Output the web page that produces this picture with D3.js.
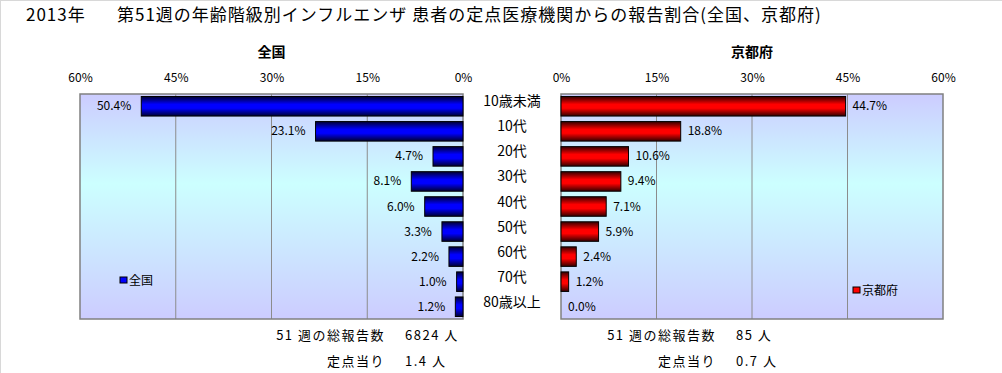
<!DOCTYPE html>
<html>
<head>
<meta charset="utf-8">
<script src="https://cdn.jsdelivr.net/npm/d3@7"></script>
<style>
  body { margin: 0; background: #fff; }
  svg { display: block; font-family: "Noto Sans CJK JP", "DejaVu Sans", sans-serif; }
</style>
</head>
<body>
<div id="chart"></div>
<script>
var categories = ["10歳未満", "10代", "20代", "30代", "40代", "50代", "60代", "70代", "80歳以上"];
var zenkoku = [50.4, 23.1, 4.7, 8.1, 6.0, 3.3, 2.2, 1.0, 1.2];
var kyoto = [44.7, 18.8, 10.6, 9.4, 7.1, 5.9, 2.4, 1.2, 0.0];
var ticks = [0, 15, 30, 45, 60];
var totals = {zenkoku: ["6824 人", "1.4 人"], kyoto: ["85 人", "0.7 人"]};

var w = 1002, h = 373;
var plotTop = 94, plotBottom = 319;

var svg = d3.select("#chart").append("svg")
    .attr("width", w)
    .attr("height", h);

/* frame lines */
svg.append("line").attr("x1", 0).attr("x2", w).attr("y1", 0.5).attr("y2", 0.5)
    .attr("stroke", "#d8d8d8");
svg.append("line").attr("x1", 0.5).attr("x2", 0.5).attr("y1", 0).attr("y2", h)
    .attr("stroke", "#d8d8d8");

var defs = svg.append("defs");

var bg = defs.append("linearGradient").attr("id", "bg")
    .attr("x1", 0).attr("y1", 0).attr("x2", 0).attr("y2", 1);
bg.append("stop").attr("offset", "0%").attr("stop-color", "#ccccff");
bg.append("stop").attr("offset", "40%").attr("stop-color", "#ccffff");
bg.append("stop").attr("offset", "100%").attr("stop-color", "#ccccff");

function barGrad(id, dark, bright) {
    var g = defs.append("linearGradient").attr("id", id)
        .attr("x1", 0).attr("y1", 0).attr("x2", 0).attr("y2", 1);
    g.append("stop").attr("offset", "0%").attr("stop-color", dark);
    g.append("stop").attr("offset", "40%").attr("stop-color", bright);
    g.append("stop").attr("offset", "60%").attr("stop-color", bright);
    g.append("stop").attr("offset", "100%").attr("stop-color", dark);
}
barGrad("blueBar", "#000033", "#0000ff");
barGrad("redBar", "#330000", "#ff0000");

/* title */
svg.append("text").attr("x", 26).attr("y", 21)
    .style("font-size", "17px").style("letter-spacing", "1px").text("2013年");
svg.append("text").attr("x", 117).attr("y", 21)
    .style("font-size", "17px").style("letter-spacing", "1px")
    .text("第51週の年齢階級別インフルエンザ 患者の定点医療機関からの報告割合(全国、京都府)");

var yScale = d3.scaleBand()
    .domain(categories)
    .range([plotTop, plotBottom])
    .paddingInner(0.22)
    .paddingOuter(0.1);

function drawPanel(opt) {
    var xScale = d3.scaleLinear().domain([0, 60]).range(opt.range);
    var x0 = Math.min(opt.range[0], opt.range[1]);
    var x1 = Math.max(opt.range[0], opt.range[1]);
    var g = svg.append("g");

    g.append("rect")
        .attr("x", x0).attr("y", plotTop)
        .attr("width", x1 - x0).attr("height", plotBottom - plotTop)
        .attr("fill", "url(#bg)");

    g.selectAll(".grid")
        .data(ticks.slice(1, 4))
        .enter().append("line")
        .attr("x1", function(d) { return xScale(d); })
        .attr("x2", function(d) { return xScale(d); })
        .attr("y1", plotTop).attr("y2", plotBottom)
        .attr("stroke", "#8c8c8c");

    g.append("rect")
        .attr("x", x0).attr("y", plotTop)
        .attr("width", x1 - x0).attr("height", plotBottom - plotTop)
        .attr("fill", "none")
        .attr("stroke", "#808080")
        .attr("stroke-width", 1.5);

    var axis = d3.axisTop(xScale)
        .tickValues(ticks)
        .tickSize(0)
        .tickPadding(0)
        .tickFormat(function(d) { return d + "%"; });
    var ax = g.append("g")
        .attr("transform", "translate(0,82)")
        .call(axis);
    ax.select(".domain").remove();
    ax.selectAll("text")
        .style("font-size", "12px")
        .style("font-family", "\"Noto Sans CJK JP\", sans-serif")
        .attr("fill", "#000");

    g.append("text")
        .attr("x", (x0 + x1) / 2).attr("y", 57)
        .attr("text-anchor", "middle")
        .style("font-size", "14px")
        .style("font-weight", "bold")
        .text(opt.name);

    g.selectAll(".bar")
        .data(opt.values)
        .enter().append("rect")
        .attr("x", function(d) { return Math.min(xScale(0), xScale(d)); })
        .attr("y", function(d, i) { return yScale(categories[i]); })
        .attr("width", function(d) { return Math.abs(xScale(d) - xScale(0)); })
        .attr("height", yScale.bandwidth())
        .attr("fill", opt.fill)
        .attr("stroke", "#000")
        .attr("stroke-width", 1);

    g.selectAll(".lbl")
        .data(opt.values)
        .enter().append("text")
        .attr("x", function(d) { return xScale(d) + opt.labelDx; })
        .attr("y", function(d, i) { return yScale(categories[i]) + yScale.bandwidth() / 2 + 4; })
        .attr("text-anchor", opt.labelAnchor)
        .style("font-size", "12px")
        .text(function(d) { return d.toFixed(1) + "%"; });

    var leg = g.append("g").attr("transform", "translate(" + opt.legend[0] + "," + opt.legend[1] + ")");
    leg.append("rect")
        .attr("x", 0).attr("y", -4)
        .attr("width", 7).attr("height", 6)
        .attr("fill", opt.solid)
        .attr("stroke", "#000");
    leg.append("text")
        .attr("x", 9).attr("y", 4)
        .style("font-size", "12px")
        .text(opt.name);

    var sumStyle = function(t) {
        t.style("font-size", "13px").style("letter-spacing", "1.5px");
    };
    g.append("text")
        .attr("x", opt.sumX).attr("y", 340)
        .attr("text-anchor", "end")
        .call(sumStyle)
        .text("51 週の総報告数");
    g.append("text")
        .attr("x", opt.sumX).attr("y", 366)
        .attr("text-anchor", "end")
        .call(sumStyle)
        .text("定点当り");
    g.append("text")
        .attr("x", opt.sumX + 20).attr("y", 340)
        .call(sumStyle)
        .text(opt.totals[0]);
    g.append("text")
        .attr("x", opt.sumX + 20).attr("y", 366)
        .call(sumStyle)
        .text(opt.totals[1]);
}

drawPanel({
    name: "全国",
    values: zenkoku,
    range: [463, 80],
    fill: "url(#blueBar)",
    solid: "#0000ff",
    labelDx: -10,
    labelAnchor: "end",
    legend: [120, 281],
    sumX: 385,
    totals: totals.zenkoku
});

drawPanel({
    name: "京都府",
    values: kyoto,
    range: [561, 943],
    fill: "url(#redBar)",
    solid: "#ff0000",
    labelDx: 7,
    labelAnchor: "start",
    legend: [853, 291],
    sumX: 716,
    totals: totals.kyoto
});

/* category labels */
svg.selectAll(".cat")
    .data(categories)
    .enter().append("text")
    .attr("x", 512)
    .attr("y", function(d) { return yScale(d) + yScale.bandwidth() / 2; })
    .attr("text-anchor", "middle")
    .style("font-size", "14px")
    .text(function(d) { return d; });
</script>
</body>
</html>
